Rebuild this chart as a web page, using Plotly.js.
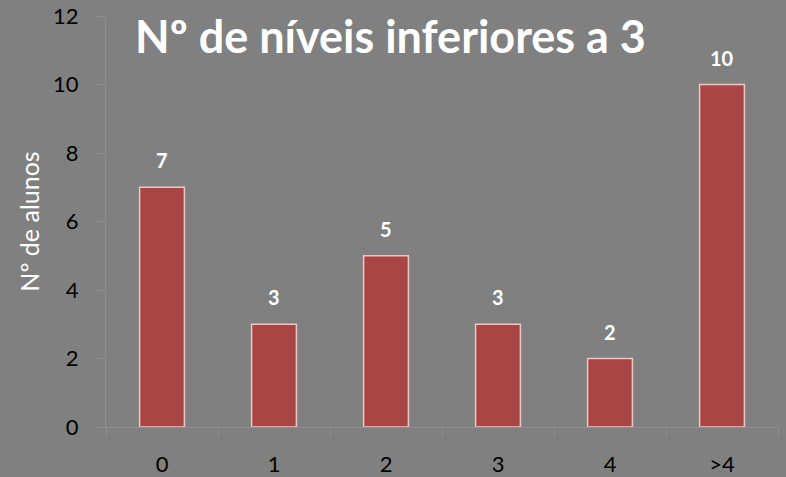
<!DOCTYPE html>
<html>
<head>
<meta charset="utf-8">
<script src="https://cdn.plot.ly/plotly-3.0.1.min.js"></script>
<style>html,body{margin:0;padding:0;background:#808080;}</style>
</head>
<body>
<div id="chart" style="width:786px;height:477px;"></div>
<script>
const categories = ["0", "1", "2", "3", "4", ">4"];
const values = [7, 3, 5, 3, 2, 10];
const yTicks = [0, 2, 4, 6, 8, 10, 12];

const FONT = 'Lato, Open Sans, sans-serif';

const trace = {
  type: 'bar',
  x: categories,
  y: values,
  width: 0.4,
  marker: {color: '#A84646', line: {color: '#F0C4C4', width: 1.5}},
  hoverinfo: 'none'
};

const annotations = categories.map((c, i) => ({
  x: c, y: values[i], text: '<b>' + values[i] + '</b>', showarrow: false,
  yshift: 27, font: {family: FONT, size: 20, color: '#ffffff'}
}));
annotations.push({
  xref: 'paper', yref: 'paper', x: 0.424, y: 0.952, xanchor: 'center', yanchor: 'middle',
  text: '<b>Nº de níveis inferiores a 3</b>', showarrow: false,
  font: {family: FONT, size: 45, color: '#ffffff'}
});

const layout = {
  width: 786, height: 477,
  paper_bgcolor: '#808080', plot_bgcolor: '#808080',
  margin: {l: 106, r: 8, t: 16, b: 50},
  showlegend: false,
  bargap: 0.6,
  font: {family: FONT, color: '#000000'},
  xaxis: {
    type: 'category', showgrid: false, zeroline: false,
    showline: true, linecolor: '#8E8E8E', linewidth: 1,
    ticks: 'outside', tickson: 'boundaries', ticklen: 8, tickcolor: '#8E8E8E',
    tickfont: {size: 22, color: '#000000'}, ticklabelstandoff: 18
  },
  yaxis: {
    range: [0, 12], tickvals: yTicks, ticktext: yTicks.map(String),
    showgrid: false, zeroline: false,
    showline: true, linecolor: '#8E8E8E', linewidth: 1,
    ticks: 'outside', ticklen: 8, tickcolor: '#8E8E8E',
    tickfont: {size: 22, color: '#000000'}, ticklabelstandoff: 14,
    title: {text: 'Nº de alunos', font: {size: 25, color: '#ffffff'}, standoff: 6}
  },
  annotations: annotations
};

Plotly.newPlot('chart', [trace], layout, {displayModeBar: false, staticPlot: true});
</script>
</body>
</html>
